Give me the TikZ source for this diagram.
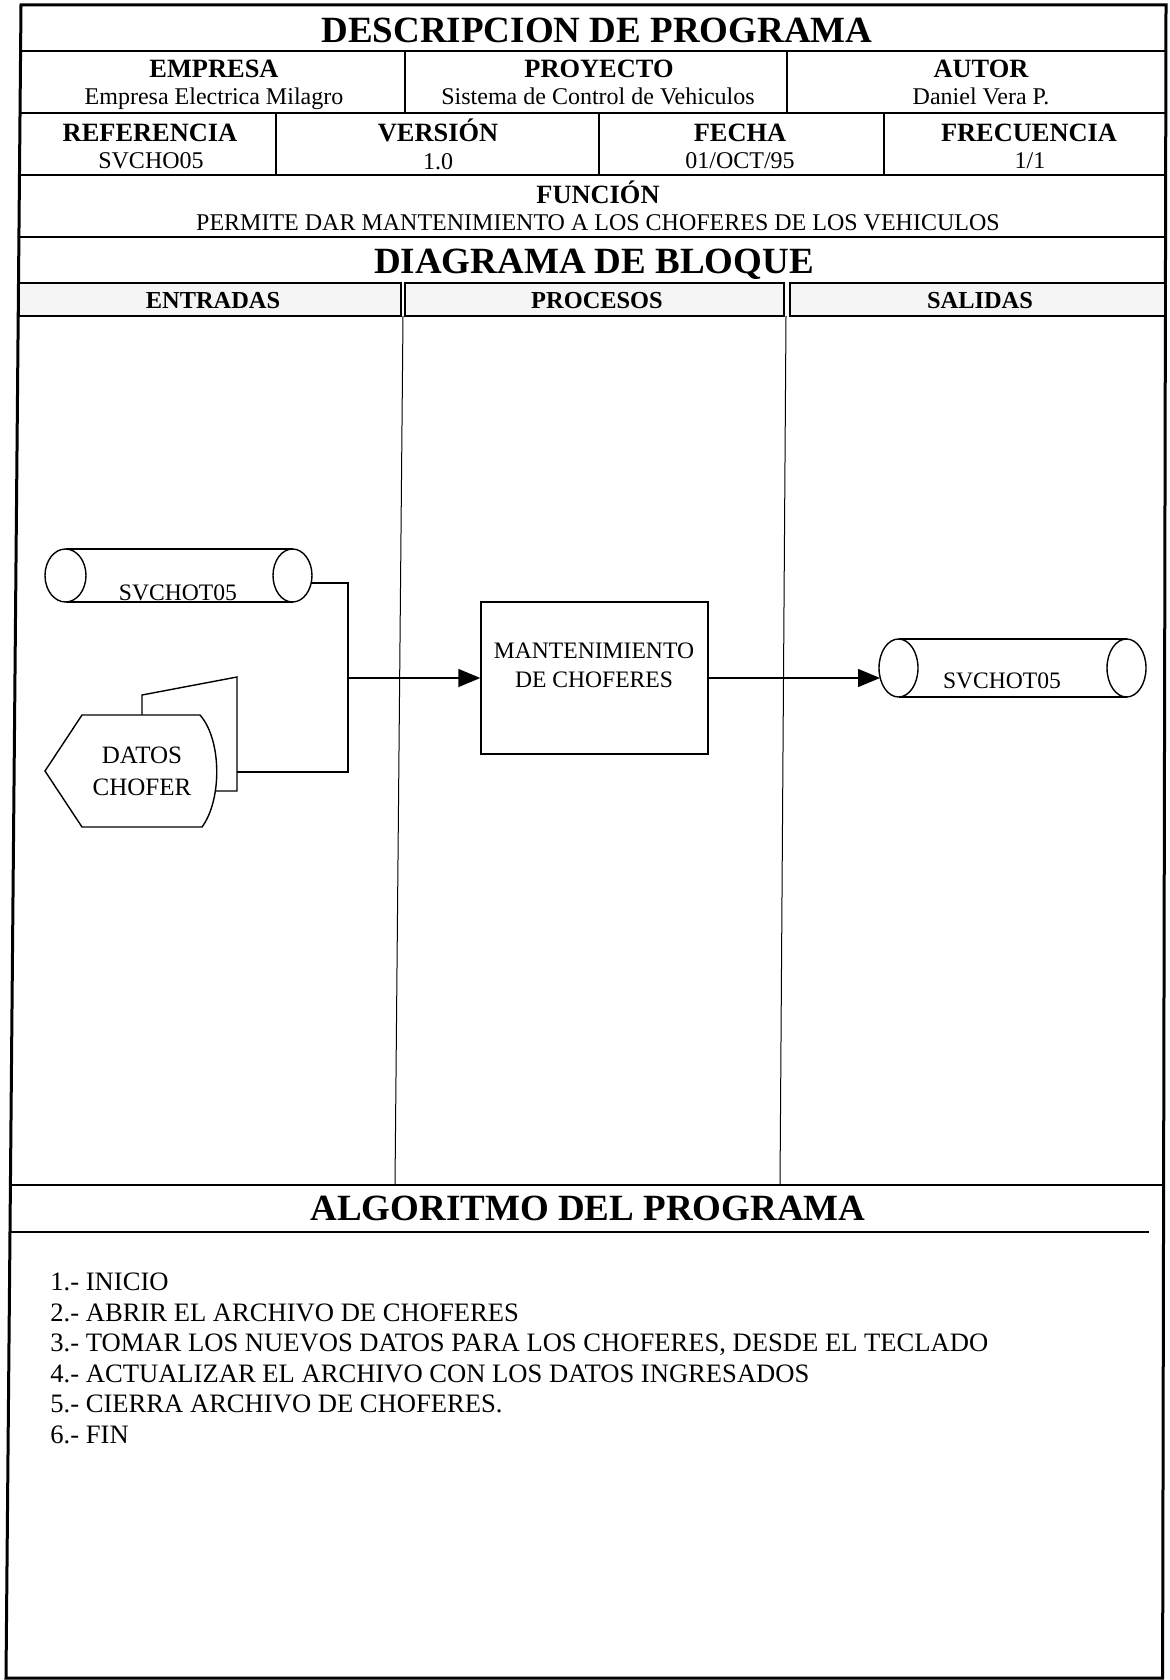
\documentclass[tikz,border=0pt]{standalone}
\usepackage{fontspec}
\setmainfont{Liberation Serif}
\usetikzlibrary{arrows.meta}
\begin{document}
\begin{tikzpicture}[x=0.5pt,y=-0.5pt,
  tBig/.style={font=\fontsize{18.5}{20}\selectfont\bfseries, anchor=base, inner sep=0pt},
  tSub/.style={font=\fontsize{13.2}{15}\selectfont\bfseries, anchor=base, inner sep=0pt},
  tVal/.style={font=\fontsize{12}{14}\selectfont, anchor=base, inner sep=0pt},
  tHdr/.style={font=\fontsize{12.2}{14}\selectfont\bfseries, anchor=base, inner sep=0pt},
  tDia/.style={font=\fontsize{11.8}{14}\selectfont, anchor=base, inner sep=0pt},
  tDat/.style={font=\fontsize{12.5}{14}\selectfont, anchor=base, inner sep=0pt},
  tAlg/.style={font=\fontsize{13.3}{15}\selectfont, anchor=base west, inner sep=0pt},
  outerframe/.style={line width=1.5pt, line join=miter},
  rowline/.style={line width=1pt},
  colline/.style={line width=0.5pt},
  hdrbox/.style={draw, line width=1pt, fill=black!4},
  shapeline/.style={line width=0.7pt},
  conn/.style={line width=0.7pt},
  arr/.style={conn, -{Triangle[length=11pt,width=9pt]}},
]
\useasboundingbox (0,0) rectangle (1170,1680);
\fill[white] (0,0) rectangle (1170,1680);

% outer frame
\draw[outerframe] (21,5) -- (1166,5) -- (1162.6,1678) -- (6,1678) -- cycle;

% row lines
\draw[rowline] (20.5,51) -- (1165.9,51);
\draw[rowline] (20,113) -- (1165.8,113);
\draw[rowline] (19.4,175) -- (1165.7,175);
\draw[rowline] (18.9,237) -- (1165.5,237);
\draw[rowline] (10.4,1185) -- (1163.6,1185);
\draw[rowline] (10,1232) -- (1149,1232);

% dividers
\draw[rowline] (405,51) -- (405,113);
\draw[rowline] (787,51) -- (787,113);
\draw[rowline] (276,113) -- (276,175);
\draw[rowline] (599,113) -- (599,175);
\draw[rowline] (884,113) -- (884,175);

% header boxes
\draw[hdrbox] (18.5,283) rectangle (401,316);
\draw[hdrbox] (405,283) rectangle (784,316);
\draw[hdrbox] (790,283) rectangle (1165.4,316);

% column lines
\draw[colline] (403,316) -- (395,1185);
\draw[colline] (786,316) -- (780,1185);

% header texts
\node[tBig] (title) at (597,43) {DESCRIPCION DE PROGRAMA};
\node[tSub] (empresaH) at (214,78) {EMPRESA};
\node[tVal] (empresaV) at (214,105) {Empresa Electrica Milagro};
\node[tSub] (proyH) at (599,78) {PROYECTO};
\node[tVal] (proyV) at (598,105) {Sistema de Control de Vehiculos};
\node[tSub] (autH) at (981,78) {AUTOR};
\node[tVal] (autV) at (981,105) {Daniel Vera P.};
\node[tSub] (refH) at (150,142) {REFERENCIA};
\node[tVal] (refV) at (151,169) {SVCHO05};
\node[tSub] (verH) at (438,142) {VERSIÓN};
\node[tVal] (verV) at (438,170) {1.0};
\node[tSub] (fecH) at (740,142) {FECHA};
\node[tVal] (fecV) at (740,169) {01/OCT/95};
\node[tSub] (freH) at (1029,142) {FRECUENCIA};
\node[tVal] (freV) at (1030,169) {1/1};
\node[tSub] (funH) at (598,204) {FUNCIÓN};
\node[tVal] (funV) at (598,231) {PERMITE DAR MANTENIMIENTO A LOS CHOFERES DE LOS VEHICULOS};
\node[tBig] (diagH) at (594,273) {DIAGRAMA DE BLOQUE};
\node[tHdr] (entH) at (213,308) {ENTRADAS};
\node[tHdr] (proH) at (597,308) {PROCESOS};
\node[tHdr] (salH) at (980,308) {SALIDAS};

% input cylinder
\draw[shapeline] (65.5,549) -- (292.5,549);
\draw[shapeline] (65.5,602) -- (292.5,602);
\draw[shapeline] (65.5,575.5) ellipse [x radius=20.5, y radius=26.5];
\draw[shapeline] (292.5,575.5) ellipse [x radius=19.5, y radius=26.5];
\node[tDia] (cin) at (178,600) {SVCHOT05};
\coordinate (cinR) at (311.2,583);

% datos chofer (document display shape)
\draw[shapeline] (142,715) -- (142,695) -- (237,677) -- (237,791) -- (215.5,791);
\draw[shapeline, fill=white] (45,771) -- (82,715) -- (200,715)
   .. controls (222,740) and (222,800) .. (202,827) -- (82,827) -- cycle;
\node[tDat] (dat1) at (142,763) {DATOS};
\node[tDat] (dat2) at (142,795) {CHOFER};
\coordinate (datR) at (237,772);

% process box
\node[draw, line width=0.7pt, minimum width=113.5pt, minimum height=76pt, inner sep=0pt] (proc) at (594.5,678) {};
\node[tDia] (proc1) at (594,658) {MANTENIMIENTO};
\node[tDia] (proc2) at (594,687) {DE CHOFERES};

% output cylinder
\draw[shapeline] (898.5,639) -- (1126.5,639);
\draw[shapeline] (898.5,697) -- (1126.5,697);
\draw[shapeline] (898.5,668) ellipse [x radius=19.5, y radius=29];
\draw[shapeline] (1126.5,668) ellipse [x radius=19.5, y radius=29];
\node[tDia] (cout) at (1002,688) {SVCHOT05};
\coordinate (coutL) at (880,678);

% connectors
\coordinate (jn) at (348,678);
\draw[conn] (cinR) -| (jn);
\draw[conn] (datR) -| (jn);
\draw[arr] (jn) -- (proc.west);
\draw[arr] (proc.east) -- (coutL);

% algorithm
\node[tBig] (algH) at (588,1220) {ALGORITMO DEL PROGRAMA};
\node[tAlg] (a1) at (50,1290) {1.- INICIO};
\node[tAlg] (a2) at (50,1321) {2.- ABRIR EL ARCHIVO DE CHOFERES};
\node[tAlg] (a3) at (50,1351) {3.- TOMAR LOS NUEVOS DATOS PARA LOS CHOFERES, DESDE EL TECLADO};
\node[tAlg] (a4) at (50,1382) {4.- ACTUALIZAR EL ARCHIVO CON LOS DATOS INGRESADOS};
\node[tAlg] (a5) at (50,1412) {5.- CIERRA ARCHIVO DE CHOFERES.};
\node[tAlg] (a6) at (50,1443) {6.- FIN};
\end{tikzpicture}
\end{document}
